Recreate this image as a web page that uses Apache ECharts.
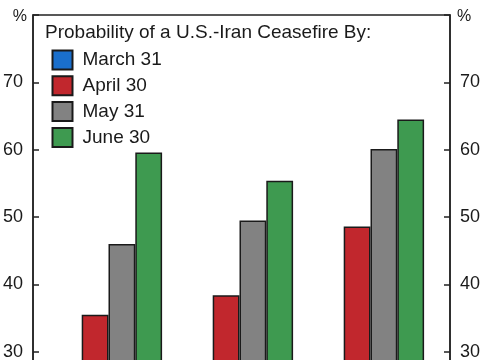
<!DOCTYPE html>
<html>
<head>
<meta charset="utf-8">
<script src="https://cdn.jsdelivr.net/npm/echarts@6/dist/echarts.min.js"></script>
<style>
html,body{margin:0;padding:0;background:#fff;}
#wrap{width:485px;height:360px;overflow:hidden;position:relative;}
#chart{width:485px;height:580px;position:absolute;left:0;top:0;}
</style>
</head>
<body>
<div id="wrap"><div id="chart"></div></div>
<script>
var titleText = 'Probability of a U.S.-Iran Ceasefire By:';
var unitLabel = '%';
var categories = ['Group 1', 'Group 2', 'Group 3'];
var seriesNames = ['March 31', 'April 30', 'May 31', 'June 30'];
var march31 = [12, 15, 22];
var april30 = [35.5, 38.4, 48.6];
var may31 = [46.0, 49.5, 60.1];
var june30 = [59.6, 55.4, 64.5];
var yTicks = [0, 10, 20, 30, 40, 50, 60, 70, 80];
var colors = ['#1a6fcc', '#c1272d', '#828282', '#3e9a50'];

var values = [march31, april30, may31, june30];
var font = 'Liberation Sans, Arial, sans-serif';

function yAxis(pos, grid) {
  var left = pos === 'left';
  return {
    type: 'value', gridIndex: grid, position: pos,
    min: yTicks[0], max: yTicks[yTicks.length - 1], interval: 10,
    name: unitLabel, nameLocation: 'end', nameGap: -2,
    nameTextStyle: {
      fontSize: 16, color: '#1a1a1a', fontFamily: font,
      align: left ? 'right' : 'left', verticalAlign: 'middle',
      padding: left ? [0, 6, 0, 0] : [0, 0, 0, 7]
    },
    axisLine: {show: true, lineStyle: {color: '#222', width: 1.5}},
    axisTick: {show: true, inside: true, length: 6, lineStyle: {color: '#222', width: 1.5}},
    splitLine: {show: false},
    axisLabel: {
      fontSize: 18, color: '#1a1a1a', fontFamily: font, margin: 10,
      padding: [0, 0, 6, 0],
      formatter: function (v) { return v === yTicks[yTicks.length - 1] ? '' : String(v); }
    }
  };
}

var chart = echarts.init(document.getElementById('chart'), null, {renderer: 'canvas'});
chart.setOption({
  animation: false,
  backgroundColor: '#fff',
  title: {
    text: titleText, left: 45, top: 23, padding: 0,
    textStyle: {fontSize: 19, fontWeight: 'normal', color: '#1a1a1a', fontFamily: font}
  },
  legend: {
    data: seriesNames, orient: 'vertical', left: 51.5, top: 49.5, padding: 0,
    icon: 'rect',
    itemWidth: 20, itemHeight: 19, itemGap: 4.8,
    textStyle: {fontSize: 19, color: '#1a1a1a', fontFamily: font, padding: [0, 0, 0, 5]},
    selectedMode: false
  },
  grid: [
    {left: 31, top: 15, width: 419, height: 539, show: true, borderColor: '#222', borderWidth: 1.5, backgroundColor: 'transparent'},
    {left: 43, top: 15, width: 393, height: 539}
  ],
  xAxis: [
    {type: 'category', gridIndex: 0, data: categories, show: false},
    {type: 'category', gridIndex: 1, data: categories, show: false}
  ],
  yAxis: [
    yAxis('left', 0),
    yAxis('right', 0),
    {type: 'value', gridIndex: 1, min: 0, max: 80, show: false}
  ],
  series: seriesNames.map(function (n, i) {
    return {
      name: n, type: 'bar', xAxisIndex: 1, yAxisIndex: 2,
      data: values[i], barWidth: 26.8, barGap: '0%',
      itemStyle: {color: colors[i], borderColor: '#1a1a1a', borderWidth: 1.5}
    };
  })
});
</script>
</body>
</html>
